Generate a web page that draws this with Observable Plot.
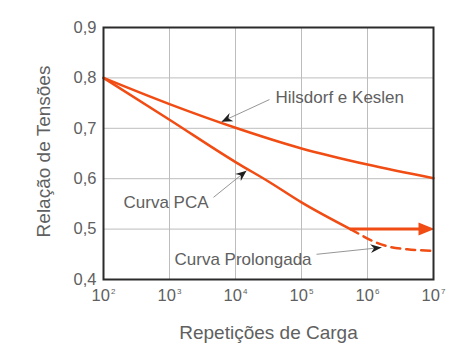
<!DOCTYPE html>
<html>
<head>
<meta charset="utf-8">
<script src="https://cdn.jsdelivr.net/npm/d3@7"></script>
<script src="https://cdn.jsdelivr.net/npm/@observablehq/plot@0.6"></script>
<style>
  html, body { margin: 0; padding: 0; background: #fff; }
  #chart { width: 463px; height: 351px; }
</style>
</head>
<body>
<div id="chart"></div>
<script>
// ---------- data ----------
const xTicks = [1e2, 1e3, 1e4, 1e5, 1e6, 1e7];
const xTickBase = "10";
const xTickExponents = ["2", "3", "4", "5", "6", "7"];
const yTicks = [0.4, 0.5, 0.6, 0.7, 0.8, 0.9];
const yTickLabels = ["0,4", "0,5", "0,6", "0,7", "0,8", "0,9"];
const xGrid = [1e3, 1e4, 1e5, 1e6];
const yGrid = [0.5, 0.6, 0.7, 0.8];

const xTitle = "Repetições de Carga";
const yTitle = "Relação de Tensões";

// Hilsdorf e Keslen curve
const hkX = [1e2, 1e3, 1e4, 1e5, 1e6, 1e7];
const hkY = [0.800, 0.748, 0.701, 0.660, 0.628, 0.601];
// Curva PCA
const pcaX = [1e2, 1e3, 1e4, 3.2e4, 1e5, 5.5e5];
const pcaY = [0.800, 0.717, 0.633, 0.594, 0.553, 0.500];
// Curva Prolongada (dashed)
const prolX = [5.5e5, 8.3e5, 1.12e6, 2.0e6, 4.0e6, 1e7];
const prolY = [0.500, 0.487, 0.478, 0.466, 0.460, 0.457];
// horizontal arrow at 0,5
const limitX = [5.5e5, 1e7];
const limitY = 0.5;

// annotations: label position and arrow (start -> tip)
const annLabels = ["Hilsdorf e Keslen", "Curva PCA", "Curva Prolongada"];
const annTextX = [4.04e4, 201, 1191];
const annTextY = [0.761, 0.553, 0.440];
const annFromX = [3.27e4, 4.64e3, 1.69e5];
const annFromY = [0.757, 0.563, 0.450];
const annToX = [6.14e3, 1.47e4, 1.63e6];
const annToY = [0.713, 0.616, 0.4635];

// ---------- layout ----------
const W = 463, H = 351, mL = 103, mR = 30, mT = 27, mB = 72;
const orange = "#f04c14";
const textGray = "#606060";

const toPts = (xs, ys) => xs.map((x, i) => ({x, y: ys[i]}));
const hk = toPts(hkX, hkY);
const pca = toPts(pcaX, pcaY);
const prol = toPts(prolX, prolY);

const pxPerDecade = (W - mL - mR) / (Math.log10(1e7) - Math.log10(1e2));
const pxPerUnit = (H - mT - mB) / (0.9 - 0.4);
const ann = annLabels.map((t, i) => {
  const dx = (Math.log10(annToX[i]) - Math.log10(annFromX[i])) * pxPerDecade;
  const dy = -(annToY[i] - annFromY[i]) * pxPerUnit;
  return {
    t, tx: annTextX[i], ty: annTextY[i],
    x1: annFromX[i], y1: annFromY[i], x2: annToX[i], y2: annToY[i],
    angle: Math.atan2(dy, dx) * 180 / Math.PI
  };
});

// arrowhead symbols (tip at origin, pointing +x)
const barbHead = {
  draw(ctx) {
    ctx.moveTo(0, 0);
    ctx.lineTo(-11, -4.5);
    ctx.lineTo(-7.5, 0);
    ctx.lineTo(-11, 4.5);
    ctx.closePath();
  }
};
const triHead = {
  draw(ctx) {
    ctx.moveTo(1, 0);
    ctx.lineTo(-15, -6.5);
    ctx.lineTo(-15, 6.5);
    ctx.closePath();
  }
};

const chart = Plot.plot({
  width: W, height: H,
  marginLeft: mL, marginRight: mR, marginTop: mT, marginBottom: mB,
  style: {fontFamily: "'Liberation Sans', Arial, Helvetica, sans-serif", background: "#fff"},
  x: {type: "log", domain: [1e2, 1e7]},
  y: {domain: [0.4, 0.9]},
  marks: [
    Plot.gridX(xGrid, {stroke: "#bdbdbd", strokeOpacity: 1, strokeWidth: 1}),
    Plot.gridY(yGrid, {stroke: "#bdbdbd", strokeOpacity: 1, strokeWidth: 1}),
    Plot.axisX(xTicks, {
      tickSize: 0, tickPadding: 10, fontSize: 16.5, fill: textGray, label: null,
      tickFormat: d => xTickBase + "^" + xTickExponents[xTicks.indexOf(d)]
    }),
    Plot.axisY(yTicks, {
      tickSize: 0, tickPadding: 7, fontSize: 16.5, fill: textGray, label: null,
      tickFormat: d => yTickLabels[yTicks.indexOf(d)]
    }),
    Plot.text([xTitle], {frameAnchor: "bottom", text: d => d, dy: 53, fontSize: 19, fill: textGray, lineAnchor: "middle"}),
    Plot.text([yTitle], {frameAnchor: "left", text: d => d, rotate: -90, dx: -60, dy: -2, fontSize: 19, fill: textGray, textAnchor: "middle"}),
    Plot.line(hk, {x: "x", y: "y", stroke: orange, strokeWidth: 2.5, curve: "monotone-x"}),
    Plot.line(pca, {x: "x", y: "y", stroke: orange, strokeWidth: 2.5, curve: "monotone-x"}),
    Plot.line(prol, {x: "x", y: "y", stroke: orange, strokeWidth: 2.5, curve: "monotone-x", strokeDasharray: "9,6"}),
    Plot.link([limitY], {x1: () => limitX[0], x2: () => limitX[1] * 0.8, y1: d => d, y2: d => d, stroke: orange, strokeWidth: 3}),
    Plot.dot([limitY], {x: () => limitX[1], y: d => d, symbol: triHead, r: 5, fill: orange, stroke: "none"}),
    Plot.link(ann, {x1: "x1", y1: "y1", x2: "x2", y2: "y2", stroke: "#8a8a8a", strokeWidth: 0.9}),
    Plot.dot(ann, {x: "x2", y: "y2", symbol: barbHead, rotate: "angle", r: 5, fill: "#1e1e1e", stroke: "none"}),
    Plot.text(ann, {x: "tx", y: "ty", text: "t", textAnchor: "start", fontSize: 17, fill: textGray}),
    Plot.frame({stroke: "#2b2b2b", strokeWidth: 2})
  ]
});

// render exponents as small raised text (superscripts)
chart.querySelectorAll("text").forEach(el => {
  const s = el.textContent;
  const m = /^(\d+)\^(\d+)$/.exec(s);
  if (!m) return;
  el.textContent = m[1];
  const sup = document.createElementNS("http://www.w3.org/2000/svg", "tspan");
  sup.setAttribute("font-size", "8");
  sup.setAttribute("dy", "-7");
  sup.setAttribute("dx", "1");
  sup.textContent = m[2];
  el.appendChild(sup);
});
document.getElementById("chart").appendChild(chart);
</script>
</body>
</html>
